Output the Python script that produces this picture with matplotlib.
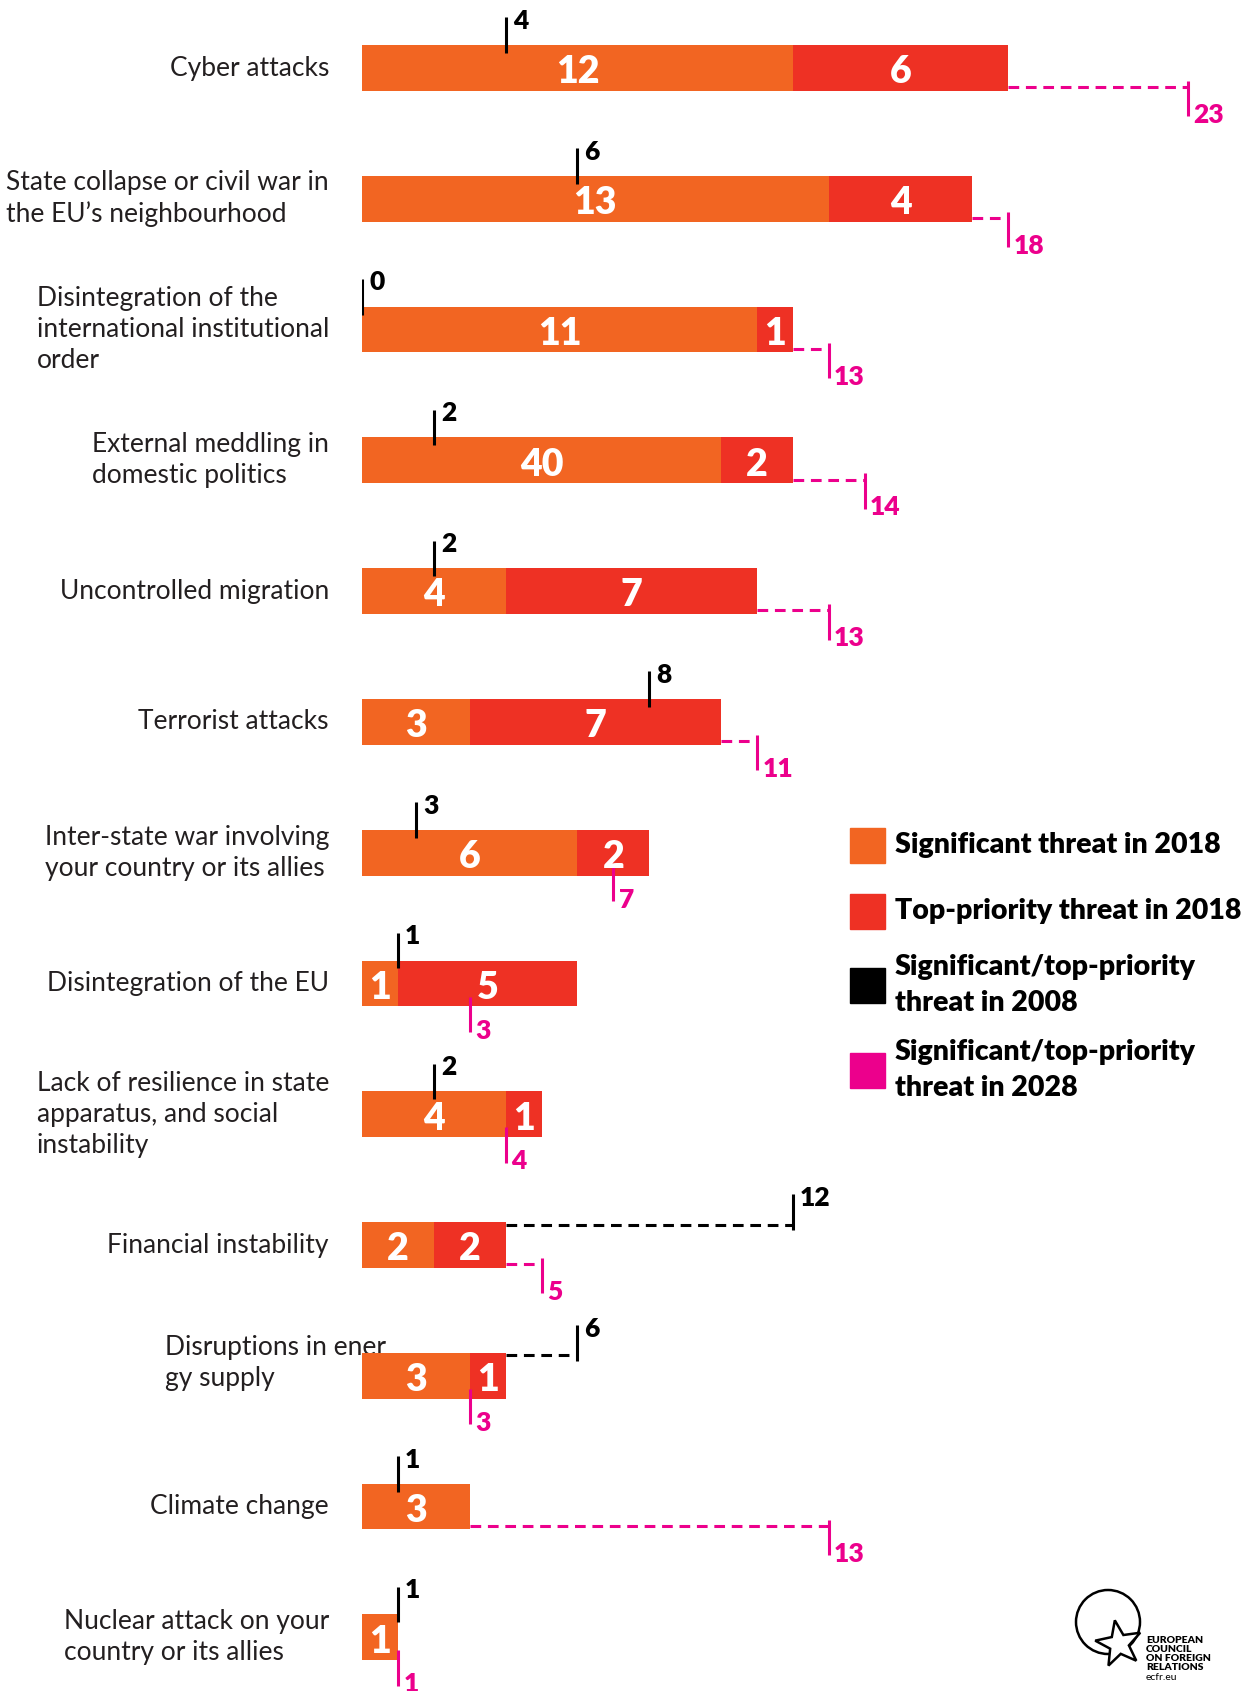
import matplotlib.pyplot as plt
from matplotlib.patches import Rectangle, Circle, Polygon
import numpy as np

plt.rcParams['font.family'] = ['Lato', 'DejaVu Sans']

# data
categories = [
    'Cyber attacks',
    'State collapse or civil war in\nthe EU\u2019s neighbourhood',
    'Disintegration of the\ninternational institutional\norder',
    'External meddling in\ndomestic politics',
    'Uncontrolled migration',
    'Terrorist attacks',
    'Inter-state war involving\nyour country or its allies',
    'Disintegration of the EU',
    'Lack of resilience in state\napparatus, and social\ninstability',
    'Financial instability',
    'Disruptions in ener\ngy supply',
    'Climate change',
    'Nuclear attack on your\ncountry or its allies',
]
significant_2018 = [12, 13, 11, 10, 4, 3, 6, 1, 4, 2, 3, 3, 1]
significant_labels = ['12', '13', '11', '40', '4', '3', '6', '1', '4', '2', '3', '3', '1']
top_priority_2018 = [6, 4, 1, 2, 7, 7, 2, 5, 1, 2, 1, 0, 0]
threat_2008 = [4, 6, 0, 2, 2, 8, 1.5, 1, 2, 12, 6, 1, 1]
labels_2008 = ['4', '6', '0', '2', '2', '8', '3', '1', '2', '12', '6', '1', '1']
threat_2028 = [23, 18, 13, 14, 13, 11, 7, 3, 4, 5, 3, 13, 1]

ORANGE = '#F26522'
RED = '#EE3124'
PINK = '#EC008C'
TEXT = '#231F20'

W, H = 1248, 1691
fig = plt.figure(figsize=(W / 100, H / 100), dpi=100)
ax = fig.add_axes([362 / W, 0, 24 * 35.9 / W, 1])
ax.set_xlim(0, 24)
ax.set_ylim(12.41, -0.52)
ax.axis('off')

n = len(categories)
y = np.arange(n)
bh = 0.35
ax.barh(y, significant_2018, height=bh, color=ORANGE, zorder=2)
ax.barh(y, top_priority_2018, left=significant_2018, height=bh, color=RED, zorder=2)

dash = (0, (3.5, 2.2))
for i in range(n):
    s = significant_2018[i]
    t = top_priority_2018[i]
    end = s + t
    ax.text(s / 2, i + 0.01, significant_labels[i], color='white', fontsize=27,
            fontweight='heavy', ha='center', va='center_baseline', zorder=5)
    if t > 0:
        ax.text(s + t / 2, i + 0.01, str(t), color='white', fontsize=27,
                fontweight='heavy', ha='center', va='center_baseline', zorder=5)

    # category label (energy label runs under the bar, as in the original)
    if i == 10:
        xoff, yoff = 1.6, -0.1
    else:
        xoff, yoff = 0, 0
    ax.text(-0.92 + xoff, i + yoff, categories[i], ha='right', va='center',
            multialignment='left', fontsize=19, color=TEXT, linespacing=1.3,
            zorder=1, clip_on=False)

    # 2008 marker
    b = threat_2008[i]
    if b > end:
        ax.plot([end, b], [i - 0.156, i - 0.156], color='black', lw=2.2,
                ls=dash, zorder=3)
    ax.plot([b, b], [i - 0.387, i - 0.115], color='black', lw=2.2,
            solid_capstyle='butt', zorder=4)
    ax.text(b + 0.2, i - 0.36, labels_2008[i], color='black', fontsize=19,
            fontweight='heavy', ha='left', va='center', zorder=4)

    # 2028 marker
    p = threat_2028[i]
    if p > end:
        ax.plot([end, p], [i + 0.148, i + 0.148], color=PINK, lw=2.2,
                ls=dash, zorder=3)
    ax.plot([p, p], [i + 0.1, i + 0.37], color=PINK, lw=2.2,
            solid_capstyle='butt', zorder=4)
    ax.text(p + 0.15, i + 0.36, str(p), color=PINK, fontsize=19,
            fontweight='heavy', ha='left', va='center', zorder=4)

# legend
legend_items = [
    (ORANGE, 'Significant threat in 2018', 845),
    (RED, 'Top-priority threat in 2018', 911),
    ('black', 'Significant/top-priority\nthreat in 2008', 985),
    (PINK, 'Significant/top-priority\nthreat in 2028', 1070),
]
sq = 35
for color, label, yc in legend_items:
    fig.add_artist(Rectangle((850 / W, 1 - (yc + sq / 2) / H), sq / W, sq / H,
                             transform=fig.transFigure, color=color))
    fig.text(895 / W, 1 - yc / H, label, fontsize=20.5, fontweight='heavy',
             ha='left', va='center', linespacing=1.5, color='black')

# ecfr logo
lg = fig.add_axes([1060 / W, 0, 188 / W, 110 / H])
lg.set_xlim(1060, 1248)
lg.set_ylim(1691, 1581)
lg.set_aspect('equal')
lg.axis('off')
lg.add_patch(Circle((1108, 1622), 32, fill=False, lw=1.8, ec='black'))
ang = np.deg2rad(np.arange(10) * 36 + 100)
rad = np.where(np.arange(10) % 2 == 0, 24, 10)
star = np.column_stack([1119 + rad * np.cos(ang), 1644 - rad * np.sin(ang)])
lg.add_patch(Polygon(star, closed=True, fc='white', ec='black', lw=1.8, zorder=3))
for k, word in enumerate(['EUROPEAN', 'COUNCIL', 'ON FOREIGN', 'RELATIONS']):
    lg.text(1146, 1640 + 9 * k, word, fontsize=7.5, fontweight='heavy',
            ha='left', va='center', color='black', zorder=4)
lg.text(1146, 1677, 'ecfr.eu', fontsize=7.5, ha='left', va='center',
        color='black', zorder=4)

fig.savefig('out.png', dpi=100, facecolor='white')
